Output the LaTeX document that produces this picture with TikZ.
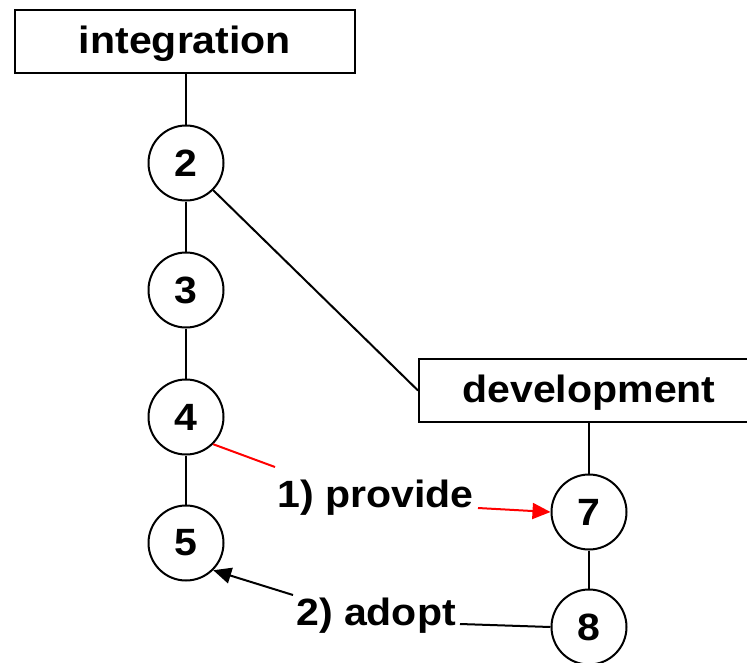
\documentclass[tikz,border=0pt]{standalone}
\usepackage{fontspec}
\setmainfont[FakeStretch=1.08]{Liberation Sans}
\usetikzlibrary{arrows.meta}
\begin{document}
\begin{tikzpicture}[x=1pt,y=-1pt,
  every node/.style={font=\fontsize{38}{40}\selectfont\bfseries, inner sep=0pt},
  branch/.style={draw, line width=2pt, minimum width=340pt, minimum height=63pt,
                 text height=26pt, text depth=2pt},
  rev/.style={draw, circle, line width=2pt, minimum size=75pt},
  link/.style={line width=2pt},
  tip/.style={-{Triangle[length=18pt,width=16pt]}},
  lbl/.style={anchor=base}]
  \useasboundingbox (0,0) rectangle (747,662);
  \clip (0,0) rectangle (747,662);

  % branches
  \node[branch] (integ) at (185,41.5) {integration};
  \node[branch] (dev) at (589,390.5) {development};

  % revisions on the integration branch
  \node[rev] (n2) at (186,163) {2};
  \node[rev] (n3) at (186,290) {3};
  \node[rev] (n4) at (186,417) {4};
  \node[rev] (n5) at (186,543) {5};

  % revisions on the development branch
  \node[rev] (n7) at (589,512) {7};
  \node[rev] (n8) at (589,627) {8};

  % history lines
  \draw[link] (integ.south -| n2) -- (n2);
  \draw[link] (n2) -- (n3);
  \draw[link] (n3) -- (n4);
  \draw[link] (n4) -- (n5);
  \draw[link] (n2.-45) -- (dev.west);
  \draw[link] (dev.south) -- (n7);
  \draw[link] (n7) -- (n8);

  % step labels
  \node[lbl] (provide) at (375.5,507) {1) provide};
  \node[lbl] (adopt) at (376,625) {2) adopt};

  \coordinate (p1) at (275,467);
  \coordinate (p2) at (478,508);
  \coordinate (a1) at (460,624);
  \coordinate (a2) at (293,595);

  % 1) provide: integration -> development
  \draw[link, red] (n4.-45) -- (p1);
  \draw[link, red, tip] (p2) -- (n7.west);

  % 2) adopt: development -> integration
  \draw[link] (n8.west) -- (a1);
  \draw[link, tip] (a2) -- (n5.-45);
\end{tikzpicture}
\end{document}
